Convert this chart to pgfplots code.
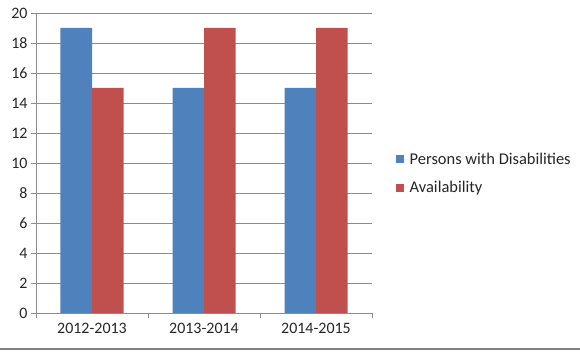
\documentclass[border=0pt]{standalone}
\usepackage{pgfplots}
\pgfplotsset{compat=1.18}
\usepackage{fontspec}
\setmainfont{Carlito}
\definecolor{xblue}{HTML}{4F81BD}
\definecolor{xred}{HTML}{C0504D}
\definecolor{xgrid}{HTML}{8C8C8C}
\begin{document}
\begin{tikzpicture}
\path[use as bounding box] (0,0) rectangle (580bp,353bp);
\begin{axis}[
  at={(36bp,40bp)}, anchor=south west,
  scale only axis, width=336bp, height=300bp,
  ybar=0pt, bar width=31.5bp,
  xmin=-0.5, xmax=2.5, ymin=0, ymax=20,
  xtick={0,1,2}, xticklabels={2012-2013,2013-2014,2014-2015},
  minor xtick={-0.5,0.5,1.5,2.5},
  ytick={0,2,...,20},
  xtick pos=bottom, ytick pos=left,
  major x tick style={draw=none},
  minor tick length=5bp, major tick length=5bp,
  tick align=outside,
  ymajorgrids, grid style={xgrid, line width=0.6pt},
  axis x line*=bottom, axis y line*=left,
  axis line style={xgrid, line width=0.8pt},
  every tick/.style={xgrid, line width=0.8pt},
  tick label style={font=\fontsize{16}{18}\selectfont, text=black!85},
  /pgf/number format/assume math mode=true,
  xticklabel style={yshift=-2bp},
  legend style={at={(rel axis cs:1.07,0.465)}, anchor=west, draw=none, fill=none,
    font=\fontsize{16.5}{18}\selectfont, row sep=12bp, text=black!85,
    legend cell align=left, inner sep=0pt},
  legend image code/.code={\fill[#1] (0bp,-4bp) rectangle (8bp,4bp); \path (0bp,0bp) -- (12bp,0bp);},
]
\addplot[fill=xblue, draw=none] coordinates {(0,19) (1,15) (2,15)};
\addplot[fill=xred, draw=none] coordinates {(0,15) (1,19) (2,19)};
\legend{Persons with Disabilities, Availability}
\end{axis}
\draw[gray, line width=1.5pt] (0,4bp) -- (580bp,4bp);
\end{tikzpicture}
\end{document}
